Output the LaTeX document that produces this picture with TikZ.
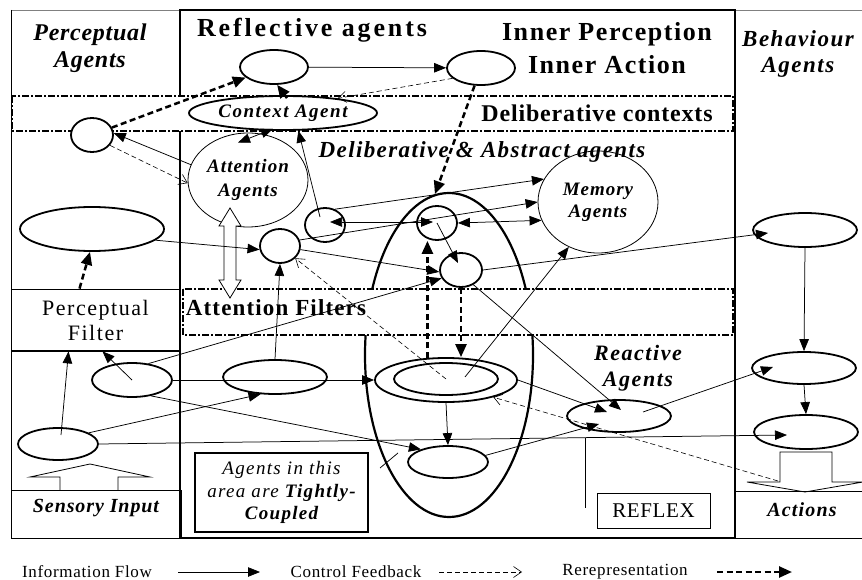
\documentclass[tikz,border=0pt]{standalone}
\usepackage{fontspec}
\setmainfont{Liberation Serif}
\usetikzlibrary{arrows.meta,shapes.geometric,calc}

% size, baseline skip, letter spacing (percent of the font size)
\newcommand{\fs}[3]{\fontsize{#1}{#2}\selectfont\addfontfeatures{LetterSpace=#3}}

\begin{document}
\begin{tikzpicture}[x=1pt,y=-1pt,
  ell/.style={draw,ellipse,line width=1.8pt,inner sep=0pt},
  thinell/.style={draw,ellipse,line width=0.8pt,inner sep=0pt},
  info/.style={draw,line width=0.75pt,-{Triangle[length=12pt,width=9.5pt]}},
  infoboth/.style={draw,line width=0.75pt,{Triangle[length=12pt,width=9.5pt]}-{Triangle[length=12pt,width=9.5pt]}},
  ctrl/.style={draw,line width=0.6pt,dash pattern=on 5pt off 3pt,-{Straight Barb[length=8pt,width=11pt]}},
  rerep/.style={draw,line width=2.5pt,dash pattern=on 6pt off 3.5pt,-{Triangle[length=13pt,width=11pt]}},
  band/.style={draw,fill=white,line width=1.3pt,dash pattern=on 7pt off 2pt on 2pt off 2pt},
  box/.style={draw,line width=0.8pt},
  lbl/.style={inner sep=0pt,align=center},
]
\useasboundingbox (0,0) rectangle (862,580);
\fill[white] (0,0) rectangle (862,580);

% ---- frames of the three columns
\draw[line width=0.8pt,gray] (11,10) -- (180,10);
\draw[line width=0.8pt,gray] (735,10) -- (863,10);
\draw[line width=0.8pt] (11,10) -- (11,538);
\draw[line width=0.8pt] (11,538) -- (180,538);
\draw[line width=0.8pt] (735,538) -- (863,538);
\draw[line width=1.8pt] (180,10) rectangle (735,538);

% ---- tightly coupled region
\node[draw,ellipse,line width=2.2pt,inner sep=0pt,minimum width=168pt,minimum height=324pt] (BIG) at (449,355) {};

% ---- context and filter bands
\draw[band] (12,96) rectangle (733,131);
\draw[band] (183,289) rectangle (733,335);

% ---- boxes
\node[box,minimum width=169pt,minimum height=62pt,inner sep=0pt,align=center,
      font={\fs{22}{25}{7}}] (PF) at (95.5,320) {Perceptual\\Filter};
\draw[box] (11,350) rectangle (180,490);
\draw[box] (11,490) rectangle (181,538);
\draw[box] (734,491) rectangle (863,538);
\node[draw,line width=1.8pt,minimum width=173pt,minimum height=79pt,inner sep=0pt,align=center,
      font={\itshape\fs{19}{22.5}{7}}] (TC) at (281.5,492.5)
      {Agents in this\\area are \textbf{Tightly-}\\\textbf{Coupled}};
\node[box,minimum width=113pt,minimum height=35pt,inner sep=0pt,font={\fs{21}{24}{3}}] (RF) at (653.5,510.5) {REFLEX};

% ---- hollow block arrows
\draw[line width=0.8pt] (60,490) -- (60,477) -- (30,477) -- (90,464) -- (150,477) -- (118,477) -- (118,490);
\draw[line width=0.8pt] (780,482) -- (780,452) -- (832,452) -- (832,482) -- (863,482) -- (805,492) -- (747,482) -- cycle;

% ---- agents
\node[ell,fill=white,minimum width=42pt,minimum height=34pt] (sc) at (92,135) {};
\node[ell,minimum width=144pt,minimum height=44pt] (PA) at (92,229) {};
\node[ell,minimum width=80pt,minimum height=34pt] (LM) at (132,380) {};
\node[ell,minimum width=80pt,minimum height=32pt] (LB) at (58,444) {};
\node[ell,minimum width=68pt,minimum height=34pt] (E1) at (274,67) {};
\node[ell,minimum width=68pt,minimum height=34pt] (E2) at (481,68) {};
\node[ell,minimum width=188pt,minimum height=34pt,font={\bfseries\itshape\fs{19}{22}{8}}] (CA) at (283,113) {Context Agent};
\node[thinell,minimum width=120pt,minimum height=94pt,align=center,font={\bfseries\itshape\fs{19}{24}{6}}] (AA) at (248,180) {Attention\\Agents};
\node[thinell,minimum width=120pt,minimum height=102pt,align=center,font={\bfseries\itshape\fs{19}{22}{5}}] (MA) at (598,202) {Memory\\Agents};
\node[ell,minimum width=40pt,minimum height=34pt] (c1) at (280,246) {};
\node[ell,minimum width=40pt,minimum height=34pt] (c2) at (325,225) {};
\node[ell,minimum width=40pt,minimum height=34pt] (c3) at (437,223) {};
\node[ell,minimum width=42pt,minimum height=34pt] (c4) at (461,270) {};
\node[ell,minimum width=142pt,minimum height=44pt] (DE) at (446,380) {};
\node[ell,minimum width=104pt,minimum height=32pt] (DEi) at (446,379) {};
\node[ell,minimum width=104pt,minimum height=34pt] (ML) at (275,377) {};
\node[ell,minimum width=80pt,minimum height=32pt] (RB) at (448,462) {};
\node[ell,minimum width=104pt,minimum height=32pt] (RE) at (619,416) {};
\node[ell,minimum width=104pt,minimum height=34pt] (R1) at (805,230) {};
\node[ell,minimum width=104pt,minimum height=32pt] (R2) at (804,368) {};
\node[ell,minimum width=104pt,minimum height=34pt] (R3) at (806,432) {};

% attention link between the agents and the filters
\draw[fill=white,line width=0.8pt] (230,208) -- (241,226) -- (236,226) -- (236,280) -- (241,280)
  -- (230,298) -- (219,280) -- (224,280) -- (224,226) -- (219,226) -- cycle;

% ---- free ends
\coordinate (r3in) at (787,435);
\coordinate (rfxa) at (585,437.6);
\coordinate (rfxb) at (585,508);
\coordinate (actfb) at (778,481);
\coordinate (tka) at (380,468);
\coordinate (tkb) at (398,453);

% ---- connectors
\draw[rerep] (sc) -- (E1);
\draw[info] (AA.165) -- (sc.5);
\draw[ctrl] (sc.-30) -- (AA.183);
\draw[rerep] ($(PF.north)+(-16,0)$) -- (PA.265);
\draw[info] (PA.-10) -- (c1.190);
\draw[info] ($(LB.center)+(3,-9)$) -- ($(PF.south)+(-27,0)$);
\draw[info] (LM.center) -- ($(PF.south)+(7,0)$);
\draw[info] (LM.45) -- (c4.203);
\draw[info] (LM.east) -- (DE.west);
\draw[info] (LM.-40) -- (RB.155);
\draw[info] (LB.20) -- (ML.230);
\draw[info] (LB.east) -- (r3in);
\draw[line width=0.75pt] (rfxa) -- (rfxb);
\draw[info] (ML.north) -- (c1.south);
\draw[ctrl] (actfb) -- (DE.-20);
\draw[ctrl] (DEi.center) -- (c1);
\draw[info] ($(DEi.center)+(19,-2)$) -- (MA.237);
\draw[rerep] (DE.130) -- (DE.130 |- c3.south);
\draw[rerep] (c4.south) -- (c4.south |- DE.north);
\draw[rerep] (E2) -- (BIG.95);
\draw[info] (E1) -- (E2);
\draw[ctrl] (E2.200) -- (CA.15);
\draw[rerep] ($(CA.north)+(4,3)$) -- (E1.-80);
\draw[infoboth] ($(CA.south)+(-10,-2)$) -- ($(AA.north)+(-10,10)$);
\draw[info] ($(c2.center)+(-5,-8)$) -- (CA.-49);
\draw[infoboth] ($(c2.center)+(5,-3)$) -- ($(c3.center)+(-4,-1)$);
\draw[infoboth] (c3.east) -- (MA.198);
\draw[info] (c2.58) -- (MA.157);
\draw[info] (c1.17) -- (MA.west);
\draw[info] (c1.-10) -- (c4.185);
\draw[info] (c3.center) -- ($(c4.center)+(-3,-7)$);
\draw[info] (c4.east) -- ($(R1.center)+(-37,3)$);
\draw[info] (c4.-50) -- ($(RE.center)+(2,-6)$);
\draw[info] (RB.10) -- ($(RE.center)+(-20,8)$);
\draw[info] (DE.east) -- ($(RE.center)+(-12,-4)$);
\draw[info] ($(RE.center)+(24,-4)$) -- ($(R2.center)+(-31,-1)$);
\draw[info] (DE.south) -- (RB.north);
\draw[info] (R1.south) -- (R2.north);
\draw[info] (R2.south) -- (R3.north);
\draw[line width=0.75pt] (tka) -- (tkb);

% ---- labels
\node[lbl,font={\bfseries\itshape\fs{24}{27}{3}}] (tPA) at (90,48) {Perceptual\\Agents};
\node[lbl,font={\bfseries\fs{26}{28}{11}}] (tRA) at (312,30) {Reflective agents};
\node[lbl,font={\bfseries\fs{26}{33}{6}}] (tIP) at (607,48) {Inner Perception\\Inner Action};
\node[lbl,font={\bfseries\fs{24}{26}{3.5}}] (tDC) at (597,113) {Deliberative contexts};
\node[lbl,font={\bfseries\itshape\fs{23}{26}{6}}] (tDA) at (482,152) {Deliberative \& Abstract agents};
\node[lbl,font={\bfseries\fs{23}{26}{5}}] (tAF) at (276,308) {Attention Filters};
\node[lbl,font={\bfseries\itshape\fs{22}{26}{7}}] (tRe) at (638,368) {Reactive\\Agents};
\node[lbl,font={\bfseries\itshape\fs{23}{26}{6.5}}] (tBA) at (798,54) {Behaviour\\Agents};
\node[lbl,font={\bfseries\itshape\fs{20}{22}{4.5}}] (tSI) at (96,508) {Sensory Input};
\node[lbl,font={\bfseries\itshape\fs{20}{22}{6}}] (tAc) at (802,510) {Actions};

% ---- legend
\node[lbl,font={\fs{17}{20}{4}}] (lg1) at (87,572) {Information Flow};
\node[lbl,font={\fs{17}{20}{4}}] (lg2) at (356,572) {Control Feedback};
\node[lbl,font={\fs{17}{20}{4}}] (lg3) at (625,572) {Rerepresentation};
\coordinate (la1) at (178,572); \coordinate (lb1) at (260,572);
\coordinate (la2) at (439,572); \coordinate (lb2) at (522,572);
\coordinate (la3) at (717,572); \coordinate (lb3) at (792,572);
\draw[info] (la1) -- (lb1);
\draw[ctrl] (la2) -- (lb2);
\draw[rerep] (la3) -- (lb3);
\end{tikzpicture}
\end{document}
